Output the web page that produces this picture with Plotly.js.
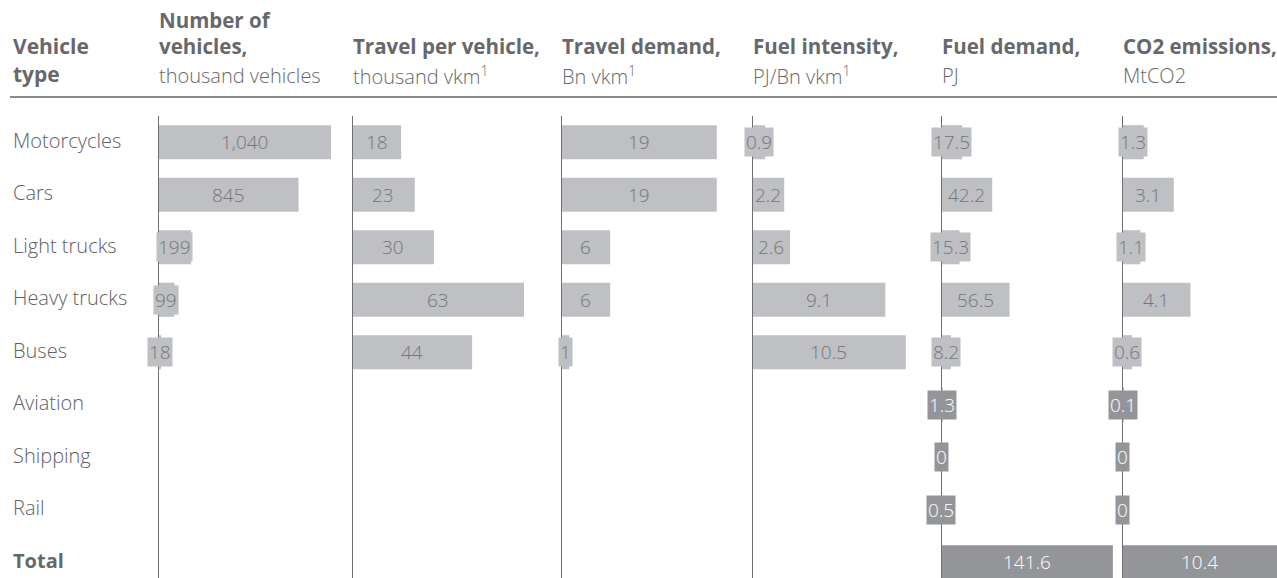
<!DOCTYPE html>
<html>
<head>
<meta charset="utf-8">
<script src="https://cdn.plot.ly/plotly-3.0.1.min.js"></script>
<style>html,body{margin:0;padding:0;background:#fff;}#chart{width:1277px;height:578px;}</style>
</head>
<body>
<div id="chart"></div>
<script>
// ---- data ----
const categories = ['Motorcycles','Cars','Light trucks','Heavy trucks','Buses','Aviation','Shipping','Rail','Total'];
const roadCategories = ['Motorcycles','Cars','Light trucks','Heavy trucks','Buses'];
const numberOfVehicles = [1040, 845, 199, 99, 18];
const travelPerVehicle = [18, 23, 30, 63, 44];
const travelDemand = [19, 19, 6, 6, 1];
const fuelIntensity = [0.9, 2.2, 2.6, 9.1, 10.5];
const fuelDemand = [17.5, 42.2, 15.3, 56.5, 8.2, 1.3, 0, 0.5, 141.6];
const co2Emissions = [1.3, 3.1, 1.1, 4.1, 0.6, 0.1, 0, 0, 10.4];
const panelTitles = ['Number of<br>vehicles,', 'Travel per vehicle,', 'Travel demand,', 'Fuel intensity,', 'Fuel demand,', 'CO2 emissions,'];
const panelUnits = ['thousand vehicles', 'thousand vkm<sup>1</sup>', 'Bn vkm<sup>1</sup>', 'PJ/Bn vkm<sup>1</sup>', 'PJ', 'MtCO2'];

// ---- layout / style ----
const W = 1277, H = 578;
const LIGHT = '#bfc0c3', DARK = '#949598', TXT = '#75767a', HEAD = '#67686b', AXIS = '#6f7073';
const FONT = '"Open Sans", Lato, sans-serif';
const darkCats = new Set(['Aviation','Shipping','Rail','Total']);
const px = x => x / W;
const py = y => 1 - y / H;

const panels = [
  {cats: roadCategories, vals: numberOfVehicles, x0: 158, x1: 345, scale: 0.1663, fmt: v => v.toLocaleString('en-US')},
  {cats: roadCategories, vals: travelPerVehicle, x0: 352, x1: 553, scale: 2.73, fmt: v => String(v)},
  {cats: roadCategories, vals: travelDemand, x0: 561, x1: 745, scale: 8.2, fmt: v => String(v)},
  {cats: roadCategories, vals: fuelIntensity, x0: 752, x1: 935, scale: 14.65, fmt: v => v.toFixed(1)},
  {cats: categories, vals: fuelDemand, x0: 941, x1: 1115, scale: 1.214, fmt: v => v === 0 ? '0' : v.toFixed(1)},
  {cats: categories, vals: co2Emissions, x0: 1122, x1: 1277, scale: 16.7, fmt: v => v === 0 ? '0' : v.toFixed(1)}
];

const yTop = 116;
const data = [];
const annotations = [];
const shapes = [];
const layout = {
  width: W, height: H,
  margin: {l: 0, r: 0, t: 0, b: 0},
  paper_bgcolor: '#fff', plot_bgcolor: 'rgba(0,0,0,0)',
  showlegend: false,
  font: {family: FONT, color: TXT},
  yaxis: {type: 'category', categoryarray: categories, range: [8.3, -0.5], domain: [0, py(yTop)],
          showticklabels: false, showgrid: false, zeroline: false, showline: false, ticks: '', fixedrange: true}
};

panels.forEach((p, i) => {
  const ax = i === 0 ? 'x' : 'x' + (i + 1);
  const axKey = i === 0 ? 'xaxis' : 'xaxis' + (i + 1);
  const rMax = (p.x1 - p.x0) / p.scale;
  layout[axKey] = {domain: [px(p.x0), px(p.x1)], range: [0, rMax], anchor: 'y',
    showgrid: false, zeroline: false, showline: false, showticklabels: false, ticks: '', fixedrange: true};
  data.push({
    type: 'bar', orientation: 'h', x: p.vals, y: p.cats, xaxis: ax, yaxis: 'y',
    width: 0.65,
    marker: {color: p.cats.map(c => darkCats.has(c) ? DARK : LIGHT), line: {width: 0}},
    hoverinfo: 'skip'
  });
  shapes.push({type: 'line', xref: ax, yref: 'paper', x0: 0, x1: 0, y0: 0, y1: py(yTop),
    line: {color: AXIS, width: 2}, layer: 'above'});
  p.vals.forEach((v, k) => {
    const dark = darkCats.has(p.cats[k]);
    annotations.push({xref: ax, yref: 'y', x: Math.min(v, rMax) / 2, y: p.cats[k],
      text: p.fmt(v), showarrow: false, xanchor: 'center', yanchor: 'middle',
      bgcolor: dark ? DARK : LIGHT, borderpad: 1,
      font: {family: FONT, size: 19, weight: 300, color: dark ? '#ffffff' : TXT}});
  });
  // headers
  const lines = panelTitles[i].split('<br>');
  lines.forEach((t, j) => {
    annotations.push({xref: 'paper', yref: 'paper', x: px(p.x0 - 1), y: py(46 - (lines.length - 1 - j) * 26),
      text: '<b>' + t + '</b>', showarrow: false, xanchor: 'left', yanchor: 'middle',
      font: {family: FONT, size: 20.5, color: HEAD}});
  });
  annotations.push({xref: 'paper', yref: 'paper', x: px(p.x0 - 1), y: py(75),
    text: panelUnits[i], showarrow: false, xanchor: 'left', yanchor: 'middle',
    font: {family: FONT, size: 20, weight: 300, color: HEAD}});
});

// vehicle type header
annotations.push({xref: 'paper', yref: 'paper', x: px(11), y: py(46), text: '<b>Vehicle</b>',
  showarrow: false, xanchor: 'left', yanchor: 'middle', font: {family: FONT, size: 21, color: HEAD}});
annotations.push({xref: 'paper', yref: 'paper', x: px(11), y: py(74), text: '<b>type</b>',
  showarrow: false, xanchor: 'left', yanchor: 'middle', font: {family: FONT, size: 21, color: HEAD}});

// row labels
categories.forEach(c => {
  annotations.push({xref: 'paper', yref: 'y', x: px(11), y: c, yshift: 2,
    text: c === 'Total' ? '<b>' + c + '</b>' : c, showarrow: false, xanchor: 'left', yanchor: 'middle',
    font: {family: FONT, size: 20, weight: c === 'Total' ? 700 : 300, color: c === 'Total' ? HEAD : '#5f6063'}});
});

// header rule
shapes.push({type: 'line', xref: 'paper', yref: 'paper', x0: px(10), x1: 1, y0: py(97), y1: py(97),
  line: {color: '#8a8b8e', width: 2}});

layout.annotations = annotations;
layout.shapes = shapes;

Plotly.newPlot('chart', data, layout, {displayModeBar: false, staticPlot: true});
</script>
</body>
</html>
